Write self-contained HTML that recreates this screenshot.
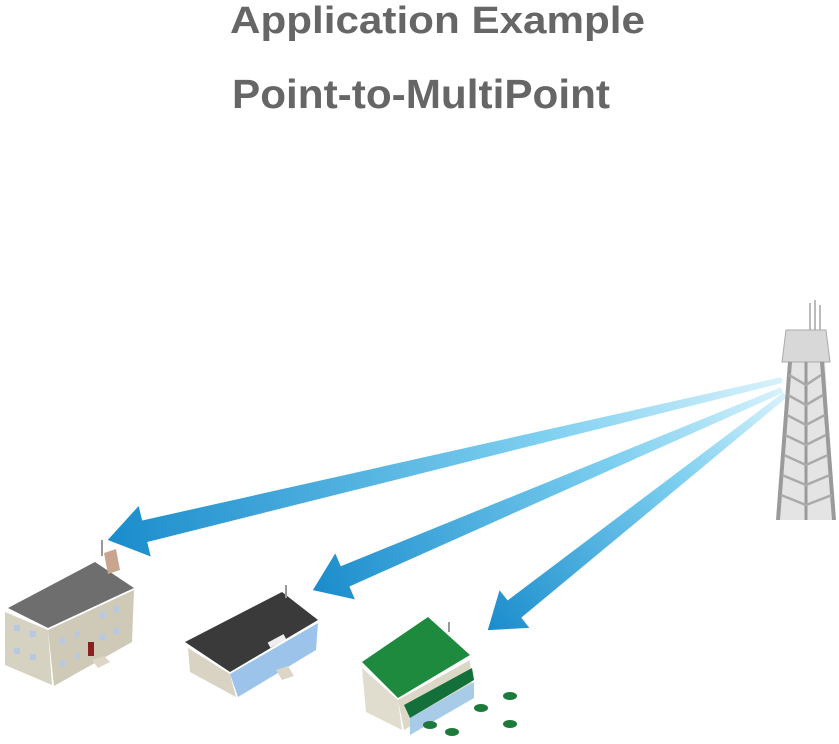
<!DOCTYPE html>
<html><head><meta charset="utf-8"><style>
html,body{margin:0;padding:0;background:#fff;}
svg{display:block;}
text{font-family:"Liberation Sans",Arial,sans-serif;font-weight:bold;fill:#666;}
</style></head><body>
<svg width="839" height="744" viewBox="0 0 839 744" xmlns="http://www.w3.org/2000/svg">
<defs>
<linearGradient id="g" x1="0" y1="0" x2="1" y2="0">
<stop offset="0" stop-color="#d8f2fb"/>
<stop offset="0.35" stop-color="#7fd0f0"/>
<stop offset="1" stop-color="#1a8ccc"/>
</linearGradient>
</defs>
<text x="230" y="33" font-size="38" textLength="415" lengthAdjust="spacingAndGlyphs">Application Example</text>
<text x="232" y="108" font-size="41" textLength="378" lengthAdjust="spacingAndGlyphs">Point-to-MultiPoint</text>

<g transform="translate(782,380) rotate(166.65)">
<polygon points="0,-3 655,-11 655,-26 693,0 655,26 655,11 0,3" fill="url(#g)"/>
</g>
<g transform="translate(782,390) rotate(156.9)">
<polygon points="0,-3 475,-11 475,-25 510,0 475,25 475,11 0,3" fill="url(#g)"/>
</g>
<g transform="translate(785,395) rotate(141.65)">
<polygon points="0,-3 345,-11 345,-24 379,0 345,24 345,11 0,3" fill="url(#g)"/>
</g>

<!-- tower -->
<polygon points="790,340 824,340 834,520 778,520" fill="#e4e4e4"/>
<g stroke="#9a9a9a" fill="none">
<line x1="810" y1="303" x2="810" y2="335" stroke-width="2" stroke="#bbb"/>
<line x1="815" y1="300" x2="815" y2="335" stroke-width="2" stroke="#bbb"/>
<line x1="820" y1="305" x2="820" y2="335" stroke-width="2" stroke="#bbb"/>
<polygon points="786,330 826,330 830,362 782,362" fill="#d8d8d8" stroke="#aaa"/>
<line x1="790" y1="362" x2="778" y2="520" stroke-width="4"/>
<line x1="822" y1="362" x2="834" y2="520" stroke-width="4"/>
<line x1="806" y1="362" x2="806" y2="520" stroke-width="3"/>
<g stroke-width="2.5" stroke="#aaa">
<path d="M789 375 L806 385 L821 375 M788 395 L806 405 L823 395 M787 415 L806 425 L825 415 M785 435 L806 445 L826 435 M784 455 L806 465 L828 455 M782 475 L806 485 L830 475 M781 495 L806 505 L832 495"/>
</g>
</g>

<!-- house 1 -->
<polygon points="8,608 95,562 134,588 48,628" fill="#6e6e6e"/>
<polygon points="5,612 48,630 52,685 5,665" fill="#d6d2c2"/>
<polygon points="48,630 134,590 132,642 54,686" fill="#cfcab8"/>
<polygon points="104,553 116,549 120,570 108,574" fill="#c9a590"/>
<line x1="102" y1="540" x2="102" y2="556" stroke="#999" stroke-width="2"/>
<g fill="#b8c8e0">
<rect x="14" y="625" width="6" height="6"/><rect x="14" y="648" width="6" height="6"/><rect x="30" y="631" width="6" height="6"/><rect x="30" y="654" width="6" height="6"/>
<rect x="60" y="638" width="5" height="6"/><rect x="75" y="631" width="5" height="6"/><rect x="60" y="660" width="5" height="6"/><rect x="75" y="653" width="5" height="6"/>
<rect x="100" y="612" width="5" height="6"/><rect x="114" y="606" width="5" height="6"/><rect x="100" y="634" width="5" height="6"/><rect x="114" y="628" width="5" height="6"/>
</g>
<rect x="88" y="642" width="6" height="14" fill="#8b2020"/>
<polygon points="92,660 104,656 110,662 98,668" fill="#ddd6c6"/>

<!-- house 2 -->
<polygon points="185,642 282,592 318,620 230,672" fill="#3a3a3a"/>
<polygon points="188,648 230,674 236,697 190,672" fill="#d8d3c2"/>
<polygon points="230,674 318,623 316,650 238,697" fill="#9cc4ea"/>
<rect x="268" y="638" width="18" height="6" fill="#eee" transform="rotate(-28 277 641)"/>
<line x1="286" y1="585" x2="286" y2="598" stroke="#999" stroke-width="2"/>
<polygon points="276,670 288,666 294,676 282,680" fill="#ddd6c6"/>

<!-- green building -->
<polygon points="362,662 428,617 470,655 398,698" fill="#1d8a3e"/>
<polygon points="362,668 398,700 402,730 366,712" fill="#e0ddcf"/>
<polygon points="398,700 470,660 472,690 404,730" fill="#dcd8c8"/>
<polygon points="404,705 472,668 474,680 410,718" fill="#14703a"/>
<polygon points="410,718 474,682 474,698 410,735" fill="#a8cbe8"/>
<line x1="449" y1="622" x2="449" y2="632" stroke="#999" stroke-width="2"/>
<g fill="#1d7a3a">
<ellipse cx="481" cy="708" rx="7" ry="4"/><ellipse cx="430" cy="725" rx="7" ry="4"/>
<ellipse cx="452" cy="732" rx="7" ry="4"/><ellipse cx="510" cy="696" rx="7" ry="4"/>
<ellipse cx="510" cy="724" rx="7" ry="4"/>
</g>
</svg>
</body></html>
